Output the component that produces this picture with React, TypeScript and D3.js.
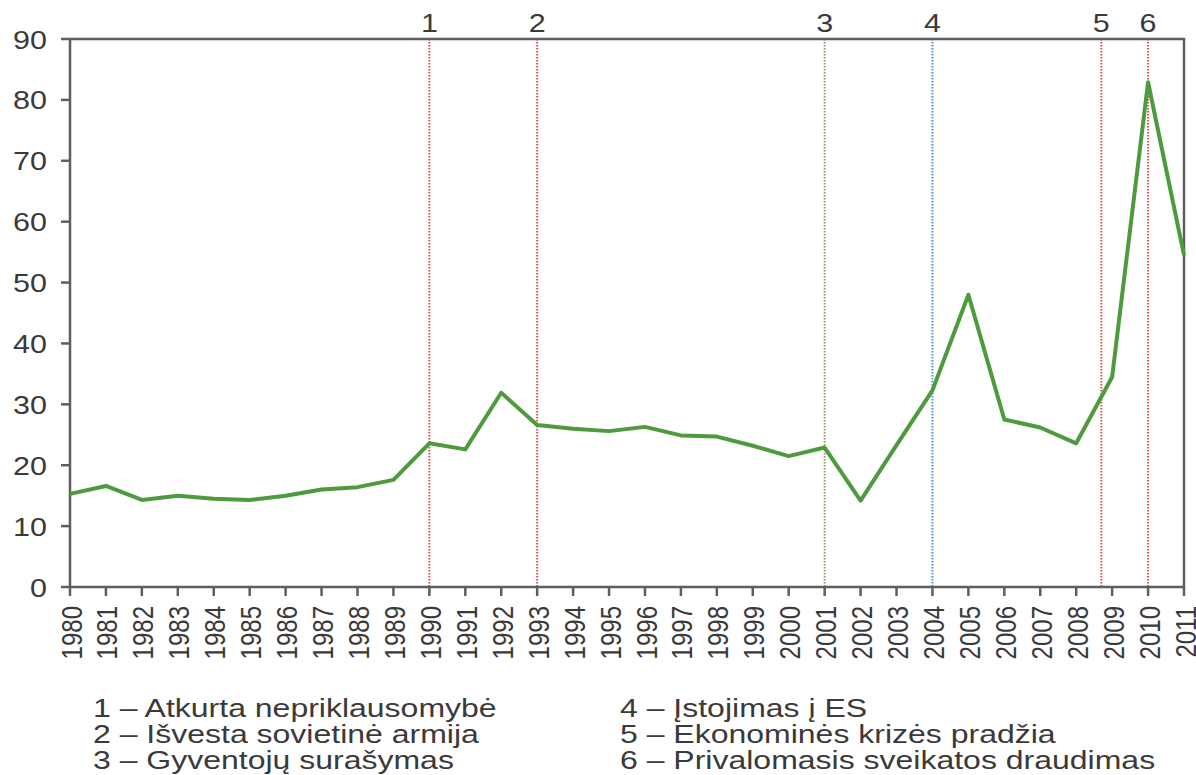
import React from "react";
import * as d3 from "d3";

const years: number[] = d3.range(1980, 2012);
const values: number[] = [
  15.3, 16.6, 14.3, 15.0, 14.5, 14.3, 15.0, 16.0, 16.4, 17.6,
  23.6, 22.6, 31.9, 26.6, 26.0, 25.6, 26.3, 24.9, 24.7, 23.2,
  21.5, 22.9, 14.2, 23.3, 32.3, 48.0, 27.5, 26.2, 23.6, 34.5,
  82.9, 54.5,
];
const yTicks: number[] = [0, 10, 20, 30, 40, 50, 60, 70, 80, 90];
const eventLabels: string[] = ["1", "2", "3", "4", "5", "6"];
const eventYears: number[] = [1990, 1993, 2001, 2004, 2008.7, 2010];
const eventColors: string[] = ["#d9534a", "#d9534a", "#9a9a60", "#4a90d0", "#d9534a", "#d9534a"];
const legendCol1: string[] = [
  "1 – Atkurta nepriklausomybė",
  "2 – Išvesta sovietinė armija",
  "3 – Gyventojų surašymas",
];
const legendCol2: string[] = [
  "4 – Įstojimas į ES",
  "5 – Ekonominės krizės pradžia",
  "6 – Privalomasis sveikatos draudimas",
];

export default function App() {
  const W = 1196, H = 775;
  const left = 70, right = 1184, top = 39, bottom = 587;
  const x = d3.scaleLinear().domain([1980, 2011]).range([left, right]);
  const y = d3.scaleLinear().domain([0, 90]).range([bottom, top]);
  const line = d3.line<number>().x((_, i) => x(years[i])).y((d) => y(d));
  const axisColor = "#5e5e5e";
  const textColor = "#3a3a3a";
  const font = "Liberation Sans, Arial, sans-serif";
  const sx = 1.22;
  const lsx = 1.28;
  return (
    <svg width={W} height={H} style={{ position: "absolute", left: 0, top: 0, background: "#fff" }}>
      {/* event lines */}
      {eventYears.map((ey, i) => (
        <g key={"ev" + i}>
          <line x1={x(ey)} x2={x(ey)} y1={top} y2={bottom} stroke={eventColors[i]} strokeWidth={2} strokeDasharray="1.5 1.5" />
          <text transform={`translate(${x(ey)},32) scale(${sx},1)`} textAnchor="middle" fontFamily={font} fontSize={25} fill={textColor}>{eventLabels[i]}</text>
        </g>
      ))}
      {/* frame */}
      <rect x={left} y={top} width={right - left} height={bottom - top} fill="none" stroke={axisColor} strokeWidth={2.5} />
      {/* y ticks */}
      {yTicks.map((t) => (
        <g key={"y" + t}>
          <line x1={left - 9} x2={left} y1={y(t)} y2={y(t)} stroke={axisColor} strokeWidth={2.5} />
          <text transform={`translate(${left - 23},${y(t)}) scale(${sx},1)`} dy="0.38em" textAnchor="end" fontFamily={font} fontSize={25} fill={textColor}>{t}</text>
        </g>
      ))}
      {/* x ticks */}
      {years.map((yr) => (
        <g key={"x" + yr}>
          <line x1={x(yr)} x2={x(yr)} y1={bottom} y2={bottom + 9} stroke={axisColor} strokeWidth={2.5} />
          <text transform={`translate(${x(yr) + 1},${bottom + 19}) scale(${sx},1) rotate(-90)`} dy="0.36em" textAnchor="end" fontFamily={font} fontSize={24} fill={textColor}>{yr}</text>
        </g>
      ))}
      {/* data line */}
      <path d={line(values) || ""} fill="none" stroke="#4e9a3e" strokeWidth={4} strokeLinejoin="round" />
      {/* legend */}
      {legendCol1.map((s, i) => (
        <text key={"l1" + i} transform={`translate(93,${717 + i * 26}) scale(${lsx},1)`} fontFamily={font} fontSize={25} fill={textColor}>{s}</text>
      ))}
      {legendCol2.map((s, i) => (
        <text key={"l2" + i} transform={`translate(620,${717 + i * 26}) scale(${lsx},1)`} fontFamily={font} fontSize={25} fill={textColor}>{s}</text>
      ))}
    </svg>
  );
}
